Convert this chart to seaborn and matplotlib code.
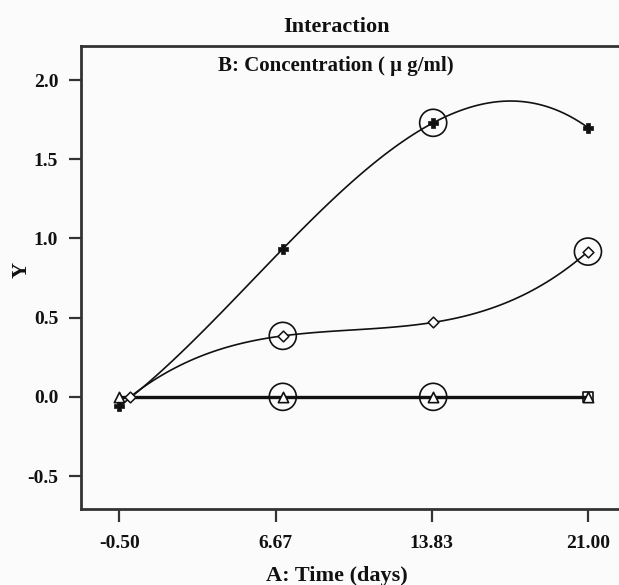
import matplotlib
matplotlib.use("Agg")
import matplotlib.pyplot as plt
import seaborn as sns
import numpy as np

# ---- data ----
x_ticks = [-0.50, 6.67, 13.83, 21.00]
x_tick_labels = ["-0.50", "6.67", "13.83", "21.00"]
y_ticks = [-0.5, 0.0, 0.5, 1.0, 1.5, 2.0]
y_tick_labels = ["-0.5", "0.0", "0.5", "1.0", "1.5", "2.0"]

plus_x = [-0.5, 7.0, 13.9, 21.0]
plus_y = [-0.06, 0.934, 1.73, 1.70]

diam_x = [0.0, 7.0, 13.9, 21.0]
diam_y = [0.0, 0.385, 0.47, 0.917]

tri_x = [-0.5, 7.0, 13.9, 21.0]
tri_y = [0.0, 0.0, 0.0, 0.0]

sq_x = [21.0]
sq_y = [0.0]

circ_x = [13.9, 7.0, 21.0, 7.0, 13.9]
circ_y = [1.73, 0.385, 0.917, 0.0, 0.0]

sns.set_theme(style="white")
plt.rcParams["font.family"] = ["Liberation Serif", "DejaVu Serif"]
plt.rcParams["font.weight"] = "bold"

fig = plt.figure(figsize=(6.19, 5.85), dpi=100)
fig.patch.set_facecolor("#fbfbfb")
W, H = 619, 585
left, right, top, bottom = 80.5, 625, 46, 509
ax = fig.add_axes([left / W, 1 - bottom / H, (right - left) / W, (bottom - top) / H])
ax.set_facecolor("#fbfbfb")

# fitted curves
sns.regplot(x=plus_x, y=plus_y, order=3, ci=None, scatter=False, ax=ax,
            line_kws=dict(color="#111111", lw=1.2), n_boot=0)
sns.regplot(x=diam_x, y=diam_y, order=3, ci=None, scatter=False, ax=ax,
            line_kws=dict(color="#111111", lw=1.2), n_boot=0)
sns.lineplot(x=tri_x, y=tri_y, ax=ax, color="#111111", lw=2.4)

# markers
sns.scatterplot(x=plus_x, y=plus_y, ax=ax, marker="P", s=60, color="#111111",
                edgecolor="#111111", linewidth=0.5, zorder=5)
sns.scatterplot(x=diam_x, y=diam_y, ax=ax, marker="D", s=30, facecolor="white",
                edgecolor="#111111", linewidth=1.1, zorder=5)
sns.scatterplot(x=tri_x, y=tri_y, ax=ax, marker="^", s=55, facecolor="white",
                edgecolor="#111111", linewidth=1.2, zorder=5)
sns.scatterplot(x=sq_x, y=sq_y, ax=ax, marker="s", s=55, facecolor="none",
                edgecolor="#111111", linewidth=1.2, zorder=4)
sns.scatterplot(x=circ_x, y=circ_y, ax=ax, marker="o", s=380, facecolor="none",
                edgecolor="#111111", linewidth=1.2, zorder=6)

ax.set_xlim(-2.28, 22.7)
ax.set_ylim(-0.708, 2.215)
ax.set_xticks(x_ticks)
ax.set_xticklabels(x_tick_labels)
ax.set_yticks(y_ticks)
ax.set_yticklabels(y_tick_labels)

for s in ["left", "bottom", "top"]:
    ax.spines[s].set_visible(True)
    ax.spines[s].set_color("#333333")
    ax.spines[s].set_linewidth(2.0)
ax.spines["right"].set_visible(False)

ax.tick_params(axis="both", direction="out", length=9, width=1.6, color="#333333",
               labelsize=14, labelcolor="#111111", pad=7, left=True, bottom=True)
ax.tick_params(axis="x", pad=10)
for lbl in ax.get_xticklabels() + ax.get_yticklabels():
    lbl.set_fontweight("bold")

fig.text(336 / W, 1 - 27 / H, "Interaction", ha="center", va="center",
         fontsize=16, fontweight="bold", color="#111111")
fig.text(336 / W, 1 - 66 / H, "B: Concentration ( μ g/ml)", ha="center", va="center",
         fontsize=15, fontweight="bold", color="#111111")
fig.text(337 / W, 1 - 576 / H, "A: Time (days)", ha="center", va="center",
         fontsize=16, fontweight="bold", color="#111111")
fig.text(22 / W, 1 - 270 / H, "Y", ha="center", va="center", rotation=90,
         fontsize=16, fontweight="bold", color="#111111")

fig.savefig("out.png", dpi=100, facecolor=fig.get_facecolor())
